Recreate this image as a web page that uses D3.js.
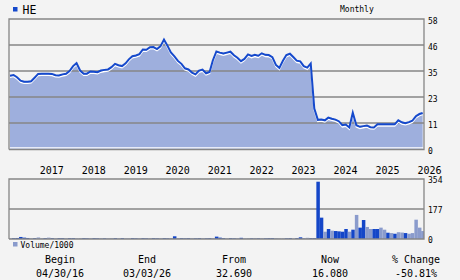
<!DOCTYPE html>
<html>
<head>
<meta charset="utf-8">
<script src="https://cdn.jsdelivr.net/npm/d3@7"></script>
<style>
  body { margin: 0; background: #f3f3f3; }
  text { font-family: "DejaVu Sans Mono", monospace; fill: #000; }
</style>
</head>
<body>
<div id="chart"></div>
<script>
//////////////////////////// data /////////////////////////////////////////

const ticker = "HE";
const beginDate = "2016-04-30";
const endDate = "2026-03-03";

// month-end closes, Apr 2016 .. Feb 2026
const closes = [
  32.7, 33.0, 32.0, 30.5, 30.0, 30.0, 30.2, 31.8, 33.5, 33.6,
  33.6, 33.6, 33.5, 32.9, 32.8, 33.3, 33.6, 34.8, 37.0, 38.3,
  35.0, 33.6, 33.6, 34.6, 34.5, 34.3, 35.0, 35.3, 35.5, 36.5,
  38.0, 37.4, 37.0, 38.2, 40.0, 41.4, 41.7, 42.3, 44.4, 44.3,
  45.4, 45.5, 44.6, 45.8, 48.8, 46.0, 43.1, 41.3, 39.3, 38.0,
  36.0, 35.5, 34.1, 33.3, 35.0, 35.4, 33.8, 34.4, 39.5, 43.5,
  43.0, 42.6, 43.0, 43.4, 41.8, 40.7, 39.2, 40.2, 42.2, 41.5,
  42.0, 41.6, 42.7, 42.0, 41.9, 41.0, 37.5, 36.2, 39.4, 41.9,
  42.5, 40.9, 39.4, 39.1, 37.0, 36.3, 38.1, 18.0, 13.0, 13.2,
  12.8, 14.0, 13.5, 13.1, 12.4, 10.6, 10.9, 9.6, 16.2, 10.6,
  9.9, 10.2, 10.5, 9.7, 9.6, 11.0, 11.0, 11.0, 11.0, 11.0,
  11.0, 12.8, 11.9, 11.5, 12.0, 12.6, 14.6, 15.6, 16.08
];

// monthly volume / 1000
const volumes = [
  4, 5, 6, 12, 8, 6, 4, 5, 9, 4,
  5, 8, 5, 4, 5, 5, 4, 5, 5, 4,
  5, 5, 4, 5, 5, 4, 5, 4, 4, 5,
  5, 4, 5, 4, 4, 5, 4, 5, 5, 4,
  5, 5, 4, 5, 5, 4, 5, 16, 5, 5,
  4, 5, 5, 4, 5, 5, 4, 5, 5, 14,
  8, 5, 4, 5, 4, 5, 7, 4, 5, 4,
  6, 4, 5, 4, 5, 5, 5, 4, 4, 4,
  5, 3, 5, 10, 3, 7, 5, 5, 338, 126,
  43, 59, 49, 47, 45, 43, 59, 43, 55, 142,
  67, 112, 71, 59, 59, 59, 67, 55, 37, 35,
  31, 40, 38, 35, 31, 35, 114, 67, 47
];

// d = dark bar, l = light bar, one letter per month
const volumeShade = [
  "ldddddldll", "dldlddlddl", "lddlddldll", "dldllddldd",
  "lddlddldld", "ddlddlddld", "ddlddldlld", "ldldddllld",
  "dldddldddd", "ldlddddldl", "ddllddlldl", "dlldlllll"
].join("");

const priceTicks = [0, 11.6, 23.2, 34.8, 46.4, 58];
const priceTickLabels = ["0", "11", "23", "35", "46", "58"];
const volumeTicks = [0, 177, 354];
const volumeTickLabels = ["0", "177", "354"];
const years = [2017, 2018, 2019, 2020, 2021, 2022, 2023, 2024, 2025, 2026];

const statLabels = ["Begin", "End", "From", "Now", "% Change"];
const statValues = ["04/30/16", "03/03/26", "32.690", "16.080", "-50.81%"];

//////////////////////////// drawing function /////////////////////////////

const createChart = () => {
  const parse = d3.timeParse("%Y-%m-%d");
  const dates = d3
    .timeMonth.range(new Date(2016, 4, 1), new Date(2026, 3, 1))
    .map((d) => d3.timeDay.offset(d, -1));

  const data = closes.map((c, i) => ({
    date: dates[i],
    close: c,
    volume: volumes[i],
    shade: volumeShade[i]
  }));

  let dimensions = {
    width: 460,
    height: 280,
    left: 9,
    right: 424,
    priceTop: 19,
    priceBottom: 149,
    volTop: 179,
    volBottom: 239
  };

  const colors = {
    bg: "#f3f3f3",
    grid: "#868686",
    fill: "#9eafdd",
    line: "#1549cc",
    dark: "#1446c8",
    light: "#8a9bcc"
  };

  //////////////////////////// scales ///////////////////////////////////////

  const xScale = d3
    .scaleTime()
    .domain([parse(beginDate), parse(endDate)])
    .range([10, 423]);

  const yScale = d3
    .scaleLinear()
    .domain([0, 58])
    .range([dimensions.priceBottom, dimensions.priceTop]);

  const vScale = d3
    .scaleLinear()
    .domain([0, 354])
    .range([dimensions.volBottom, dimensions.volTop]);

  //////////////////////////// svg ///////////////////////////////////

  const svg = d3
    .select("#chart")
    .append("svg")
    .attr("width", dimensions.width)
    .attr("height", dimensions.height)
    .style("display", "block");

  svg.append("rect")
    .attr("width", dimensions.width)
    .attr("height", dimensions.height)
    .attr("fill", colors.bg);

  //////////////////////////// price panel /////////////////////////////////

  const price = svg.append("g");

  price.append("path")
    .datum(data)
    .attr("fill", colors.fill)
    .attr("d", d3.area()
      .x((d) => xScale(d.date))
      .y0(dimensions.priceBottom)
      .y1((d) => yScale(d.close)));

  // white edge under the fill
  price.append("line")
    .attr("x1", dimensions.left).attr("x2", dimensions.right)
    .attr("y1", 147.8).attr("y2", 147.8)
    .attr("stroke", "#fff").attr("stroke-width", 1.2);

  // grid lines
  price.selectAll(".grid")
    .data(priceTicks.slice(1, -1))
    .join("line")
    .attr("x1", dimensions.left).attr("x2", dimensions.right)
    .attr("y1", (d) => yScale(d)).attr("y2", (d) => yScale(d))
    .attr("stroke", colors.grid).attr("stroke-width", 1.3);

  const line = d3.line()
    .x((d) => xScale(d.date))
    .y((d) => yScale(d.close));

  price.append("path")
    .datum(data)
    .attr("fill", "none")
    .attr("stroke", "#fff")
    .attr("stroke-width", 1.5)
    .attr("transform", "translate(0,1.6)")
    .attr("d", line);

  price.append("path")
    .datum(data)
    .attr("fill", "none")
    .attr("stroke", colors.line)
    .attr("stroke-width", 2)
    .attr("d", line);

  // frame: left, top, right, bottom
  price.append("path")
    .attr("fill", "none")
    .attr("stroke", colors.grid)
    .attr("stroke-width", 1.3)
    .attr("d", `M${dimensions.left},${dimensions.priceBottom + 0.5}V${dimensions.priceTop}H${dimensions.right}V${dimensions.priceBottom + 0.5}H${dimensions.left}`);

  price.selectAll(".ylab")
    .data(priceTicks)
    .join("text")
    .attr("x", 428)
    .attr("y", (d) => yScale(d) + 5)
    .attr("font-size", 8)
    .text((d, i) => priceTickLabels[i]);

  //////////////////////////// volume panel ////////////////////////////////

  const vol = svg.append("g");

  vol.append("line")
    .attr("x1", dimensions.left).attr("x2", dimensions.right)
    .attr("y1", vScale(177)).attr("y2", vScale(177))
    .attr("stroke", colors.grid).attr("stroke-width", 1.3);

  vol.selectAll(".bar")
    .data(data)
    .join("rect")
    .attr("x", (d) => Math.max(dimensions.left, xScale(d.date) - 1.5))
    .attr("width", (d) => Math.min(3.5, dimensions.right - (xScale(d.date) - 1.5)))
    .attr("y", (d) => vScale(d.volume))
    .attr("height", (d) => dimensions.volBottom - vScale(d.volume))
    .attr("fill", (d) => (d.shade === "d" ? colors.dark : colors.light));

  vol.append("path")
    .attr("fill", "none")
    .attr("stroke", colors.grid)
    .attr("stroke-width", 1.3)
    .attr("d", `M${dimensions.left},${dimensions.volBottom}V${dimensions.volTop}H${dimensions.right}V${dimensions.volBottom}H${dimensions.left}`);

  vol.selectAll(".vlab")
    .data(volumeTicks)
    .join("text")
    .attr("x", 428)
    .attr("y", (d) => vScale(d) + 4)
    .attr("font-size", 8)
    .text((d, i) => volumeTickLabels[i]);

  //////////////////////////// x labels ////////////////////////////////////

  svg.selectAll(".xlab")
    .data(years)
    .join("text")
    .attr("x", (d) => xScale(new Date(d, 0, 1)) + 1.5)
    .attr("y", 174)
    .attr("font-size", 10)
    .text((d) => d);

  //////////////////////////// legends / titles ////////////////////////////

  svg.append("rect")
    .attr("x", 13).attr("y", 7).attr("width", 4.5).attr("height", 4.5)
    .attr("fill", colors.line);
  svg.append("text")
    .attr("x", 22.5).attr("y", 13.5)
    .attr("font-size", 11.5)
    .text(ticker);

  svg.append("text")
    .attr("x", 340).attr("y", 11.5)
    .attr("font-size", 8)
    .text("Monthly");

  svg.append("rect")
    .attr("x", 13).attr("y", 242).attr("width", 4.5).attr("height", 4.5)
    .attr("fill", colors.light);
  svg.append("text")
    .attr("x", 20.5).attr("y", 248)
    .attr("font-size", 8)
    .text("Volume/1000");

  //////////////////////////// stats row ///////////////////////////////////

  const statX = [60, 147, 234, 330, 416];
  const stats = svg.selectAll(".stat")
    .data(statLabels)
    .join("g")
    .attr("transform", (d, i) => `translate(${statX[i]},0)`);

  stats.append("text")
    .attr("y", 262.5)
    .attr("text-anchor", "middle")
    .attr("font-size", 10)
    .text((d) => d);

  stats.append("text")
    .attr("y", 276.5)
    .attr("text-anchor", "middle")
    .attr("font-size", 10)
    .text((d, i) => statValues[i]);
};

createChart();
</script>
</body>
</html>
